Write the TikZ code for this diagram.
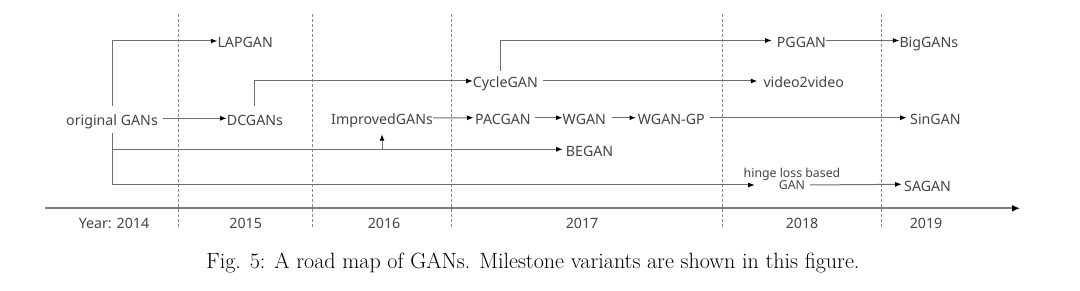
\documentclass[tikz,border=0pt]{standalone}
\usepackage{fontspec}
\newfontfamily\lblfont{Noto Sans}
\usetikzlibrary{arrows.meta}
\definecolor{txtgray}{HTML}{454545}
\definecolor{lingray}{HTML}{6E6E6E}
\definecolor{divgray}{HTML}{8A8A8A}
\tikzset{
  lbl/.style={inner sep=0pt, anchor=west, text height=14pt, text depth=0pt,
    font=\lblfont\fontsize{14.2}{16}\selectfont, text=txtgray},
  yearlbl/.style={inner sep=0pt, anchor=base, font=\lblfont\fontsize{14.2}{16}\selectfont, text=txtgray},
  conn/.style={draw=lingray, line width=1pt, -{Latex[length=6.5pt,width=5pt,color=black]}},
  plain/.style={draw=lingray, line width=1pt},
  divider/.style={draw=divgray, line width=0.7pt, dash pattern=on 3pt off 2pt},
}
\begin{document}
\begin{tikzpicture}[x=1pt,y=-1pt]
\useasboundingbox[fill=white] (0,0) rectangle (1080,291);
% year dividers
\foreach \xx/\nm in {178.3/d1,312.3/d2,451/d3,722.7/d4,881.7/d5}{
  \coordinate (\nm top) at (\xx,14);
  \coordinate (\nm bot) at (\xx,227);
  \draw[divider] (\nm top) -- (\nm bot);
}
% time axis
\coordinate (axs) at (45,208.3);
\coordinate (axe) at (1020,208.3);
\draw[draw=divgray!90!black, line width=1.8pt, -{Latex[length=8pt,width=7pt,color=black]}] (axs) -- (axe);
% year labels
\node[yearlbl] (y14) at (114,228.5) {Year: 2014};
\node[yearlbl] (y15) at (245.7,228.5) {2015};
\node[yearlbl] (y16) at (384,228.5) {2016};
\node[yearlbl] (y17) at (582,228.5) {2017};
\node[yearlbl] (y18) at (802,228.5) {2018};
\node[yearlbl] (y19) at (926,228.5) {2019};
% nodes
\node[lbl] (orig) at (66,118.3) {original GANs};
\node[lbl] (lapgan) at (217.3,41) {LAPGAN};
\node[lbl] (dcgan) at (226.7,118.3) {DCGANs};
\node[lbl] (improved) at (331,118) {ImprovedGANs};
\node[lbl] (pacgan) at (475,117.7) {PACGAN};
\node[lbl] (wgan) at (562.5,117.7) {WGAN};
\node[lbl] (wgangp) at (637.7,117.7) {WGAN-GP};
\node[lbl] (singan) at (910,117.7) {SinGAN};
\node[lbl] (cyclegan) at (472.7,81) {CycleGAN};
\node[lbl] (video) at (763.3,81) {video2video};
\node[lbl] (pggan) at (776.7,40.5) {PGGAN};
\node[lbl] (biggan) at (899.3,40.5) {BigGANs};
\node[lbl] (began) at (565.7,149.3) {BEGAN};
\node[lbl] (sagan) at (904,184.3) {SAGAN};
\node[inner sep=0pt, anchor=center, font=\lblfont\fontsize{12.3}{13}\selectfont, text=txtgray] (hinge) at (792,185) {GAN};
\node[inner sep=0pt, anchor=base, font=\lblfont\fontsize{12.3}{13}\selectfont, text=txtgray] (hingelbl) at (792,177.5) {hinge loss based};
% connectors
\draw[conn, shorten <=5pt] (orig.north) |- (lapgan.west);
\draw[conn, shorten <=5.4pt] (orig.east) -- (dcgan.west);
\draw[conn, shorten <=8pt, shorten >=3pt] (orig.south) |- (began.west);
\draw[conn, shorten <=8pt, shorten >=24pt] (orig.south) |- (hinge.west);
\draw[conn, shorten >=9pt] (improved.south |- began.west) -- (improved.south);
\draw[conn, shorten <=5pt] (dcgan.north) |- (cyclegan.west);
\draw[conn, shorten <=2.3pt, shorten >=5pt] ([xshift=-5pt]cyclegan.north) |- (pggan.west);
\draw[conn, shorten <=5pt, shorten >=6pt] (cyclegan.east) -- (video.west);
\draw[conn, shorten >=1.5pt] (improved.east) -- (pacgan.west);
\draw[conn, shorten <=4.3pt] (pacgan.east) -- (wgan.west);
\draw[conn, shorten <=6.3pt, shorten >=1.7pt] (wgan.east) -- (wgangp.west);
\draw[conn, shorten <=5pt, shorten >=3.3pt] (wgangp.east) -- (singan.west);
\draw[conn] (pggan.east) -- (biggan.west);
\draw[conn, shorten <=4.7pt, shorten >=2.3pt] (hinge.east) -- (sagan.west);
% caption
\node[inner sep=0pt, anchor=base, text=black] (caption) at (533,269)
  {\resizebox{653pt}{!}{\fontsize{17}{20}\selectfont Fig. 5: A road map of GANs. Milestone variants are shown in this figure.}};
\end{tikzpicture}
\end{document}
